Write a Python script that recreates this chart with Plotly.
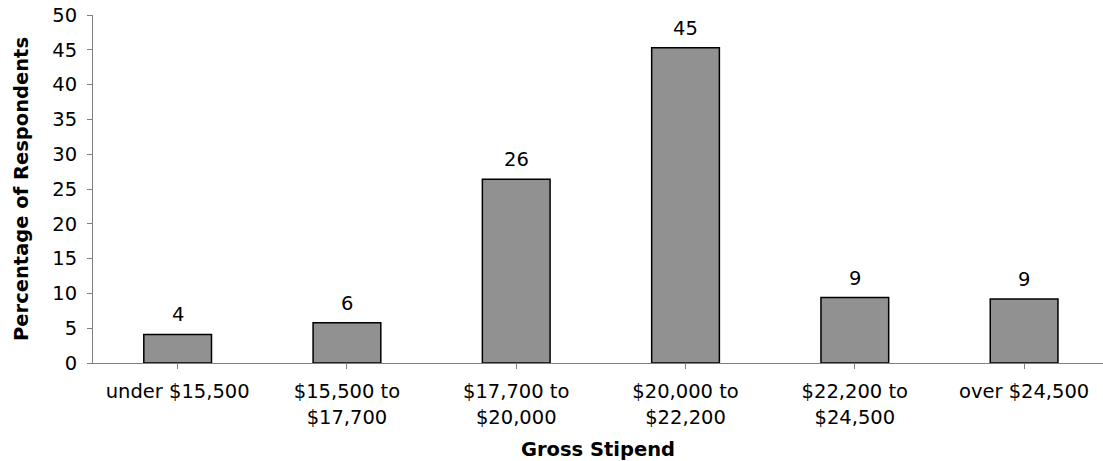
import plotly.graph_objects as go

# Survey results: share of respondents by gross stipend band
categories = [
    "under $15,500",
    "$15,500 to<br>$17,700",
    "$17,700 to<br>$20,000",
    "$20,000 to<br>$22,200",
    "$22,200 to<br>$24,500",
    "over $24,500",
]
percentages = [4.1, 5.8, 26.4, 45.3, 9.4, 9.2]
y_ticks = [0, 5, 10, 15, 20, 25, 30, 35, 40, 45, 50]

FONT = "DejaVu Sans, Verdana, sans-serif"
SIZE = 19.5

fig = go.Figure(
    go.Bar(
        x=list(range(len(categories))),
        y=percentages,
        width=0.4,
        marker=dict(color="#919191", line=dict(color="#000000", width=1.5)),
        hoverinfo="skip",
    )
)

# Value labels above each bar, rounded to whole percent
for i, v in enumerate(percentages):
    fig.add_annotation(
        x=i, y=v, text=f"{v:.0f}", showarrow=False,
        yanchor="bottom", yshift=6,
        font=dict(family=FONT, size=SIZE, color="#000000"),
    )

fig.update_layout(
    width=1103,
    height=461,
    margin=dict(l=93, r=0, t=15, b=98),
    paper_bgcolor="white",
    plot_bgcolor="white",
    showlegend=False,
    font=dict(family=FONT, size=SIZE, color="#000000"),
)

fig.update_xaxes(
    tickmode="array",
    tickvals=list(range(len(categories))),
    ticktext=categories,
    tickson="boundaries",
    ticks="outside",
    ticklen=5,
    tickcolor="#808080",
    showline=True,
    linecolor="#808080",
    linewidth=1,
    showgrid=False,
    zeroline=False,
    range=[-0.5, 5.466],
    tickfont=dict(family=FONT, size=SIZE),
    ticklabelstandoff=6,
    title=dict(text="<b>Gross Stipend</b>", font=dict(family=FONT, size=SIZE), standoff=14),
)

fig.update_yaxes(
    range=[0, 50],
    tickmode="array",
    tickvals=y_ticks,
    ticks="outside",
    ticklen=5,
    tickcolor="#808080",
    showline=True,
    linecolor="#808080",
    linewidth=1,
    showgrid=False,
    zeroline=False,
    tickfont=dict(family=FONT, size=SIZE),
    ticklabelstandoff=6,
    title=dict(text="<b>Percentage of Respondents</b>", font=dict(family=FONT, size=SIZE), standoff=18),
)

fig.write_html("out.html")
